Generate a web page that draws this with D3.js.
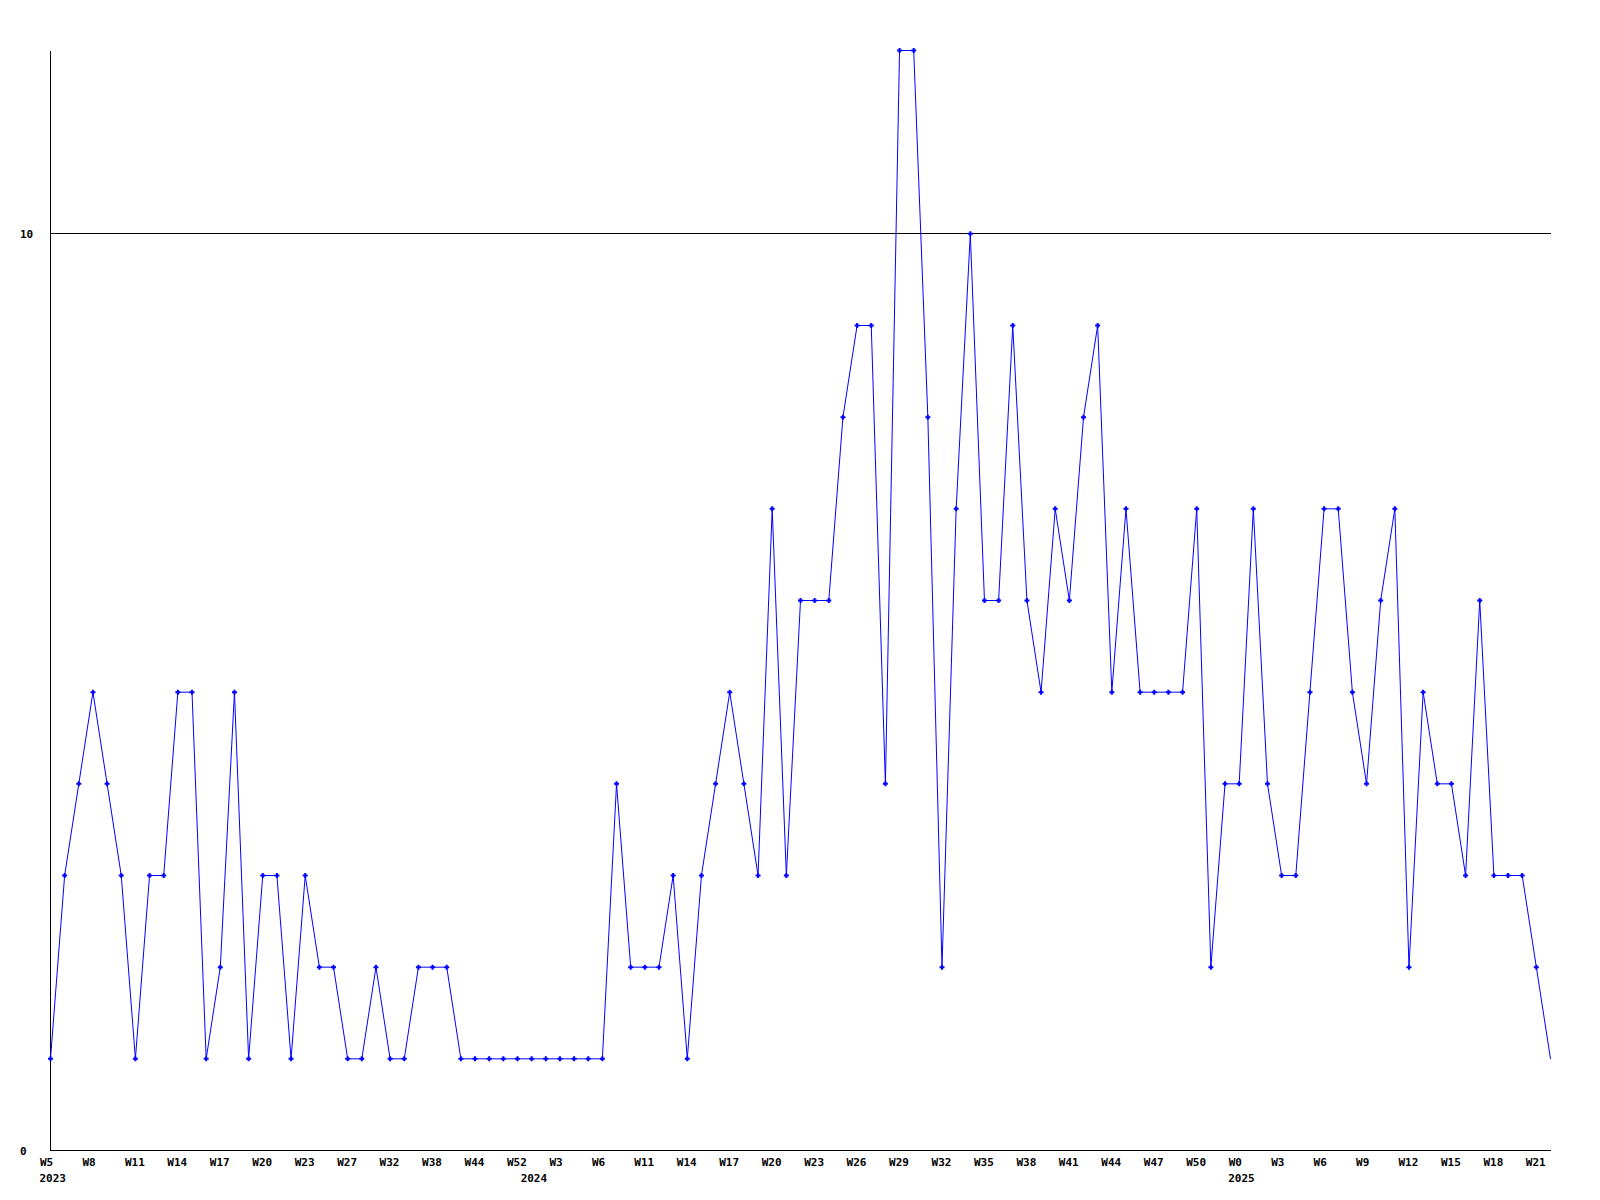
<!DOCTYPE html>
<html><head><meta charset="utf-8">
<script src="https://cdn.jsdelivr.net/npm/d3@7"></script>
<style>body{margin:0;background:#fff}</style>
</head><body><svg id="c" width="1600" height="1200"></svg>
<script>
const values = [1,3,4,5,4,3,1,3,3,5,
  5,1,2,5,1,3,3,1,3,2,
  2,1,1,2,1,1,2,2,2,1,
  1,1,1,1,1,1,1,1,1,1,
  4,2,2,2,3,1,3,4,5,4,
  3,7,3,6,6,6,8,9,9,4,
  12,12,8,2,7,10,6,6,9,6,
  5,7,6,8,9,5,7,5,5,5,
  5,7,2,4,4,7,4,3,3,5,
  7,7,5,4,6,7,2,5,4,4,
  3,6,3,3,3,2,1];
const tickLabels = ["W5","W8","W11","W14","W17","W20","W23","W27","W32","W38","W44","W52",
  "W3","W6","W11","W14","W17","W20","W23","W26","W29","W32","W35","W38","W41","W44","W47","W50",
  "W0","W3","W6","W9","W12","W15","W18","W21"];
const tickStep = 3;
const years = ["2023","2024","2025"];
const yearStart = [0,34,84];
const yTicks = [0,10];
const gridValues = [10];

const svg = d3.select("#c");
const font = "'DejaVu Sans Mono', monospace";
const x = d3.scaleLinear().domain([0, values.length-1]).range([50.5, 1550.5]);
const y = d3.scaleLinear().domain([0, 12]).range([1150.5, 50.5]);
const snap = v => Math.floor(v) + 0.5;

// grid line
svg.selectAll("line.grid").data(gridValues).enter().append("line")
  .attr("x1", x(0)).attr("x2", x(values.length-1))
  .attr("y1", d=>snap(y(d))).attr("y2", d=>snap(y(d)))
  .attr("stroke","#000").attr("stroke-width",1).attr("shape-rendering","crispEdges");

// x axis
const xAxis = d3.axisBottom(x)
  .tickValues(tickLabels.map((_,i)=>i*tickStep))
  .tickFormat((d,i)=>tickLabels[i])
  .tickSize(0).tickPadding(0);
const gx = svg.append("g").attr("transform",`translate(0,${y(0)})`).call(xAxis);
gx.select(".domain").attr("stroke","#000").attr("shape-rendering","crispEdges")
  .attr("d",`M${x(0)},0H${x(values.length-1)}`);
gx.selectAll("text").attr("text-anchor","start").attr("dx",-11).attr("y",15.5).attr("dy",0)
  .style("font-family",font).style("font-size","11px").style("font-weight","bold").attr("fill","#000");

// year labels
svg.selectAll("text.year").data(years).enter().append("text")
  .attr("x",(d,i)=>x(yearStart[i])-11).attr("y",y(0)+31)
  .attr("text-anchor","start")
  .style("font-family",font).style("font-size","11px").style("font-weight","bold")
  .text(d=>d);

// y axis
const yAxis = d3.axisLeft(y).tickValues(yTicks).tickFormat(d3.format("d")).tickSize(0).tickPadding(0);
const gy = svg.append("g").attr("transform",`translate(${x(0)},0)`).call(yAxis);
gy.select(".domain").attr("stroke","#000").attr("shape-rendering","crispEdges")
  .attr("d",`M0,${y(0)}V${y(12)}`);
gy.selectAll("text").attr("text-anchor","start").attr("x",20-x(0)).attr("dy","0.32em")
  .style("font-family",font).style("font-size","11px").style("font-weight","bold").attr("fill","#000");

// line
const line = d3.line().x((d,i)=>x(i)).y(d=>y(d));
svg.append("path").datum(values).attr("d",line)
  .attr("fill","none").attr("stroke","#0000ff").attr("stroke-width",1);

// markers
const marker = "M-1,-2.5h2v1.5h1.5v2h-1.5v1.5h-2v-1.5h-1.5v-2h1.5z";
svg.selectAll("path.m").data(values.slice(0, values.length-1)).enter().append("path")
  .attr("class","m")
  .attr("transform",(d,i)=>`translate(${x(i)},${y(d)})`)
  .attr("d",marker).attr("fill","#0000ff");
</script></body></html>
